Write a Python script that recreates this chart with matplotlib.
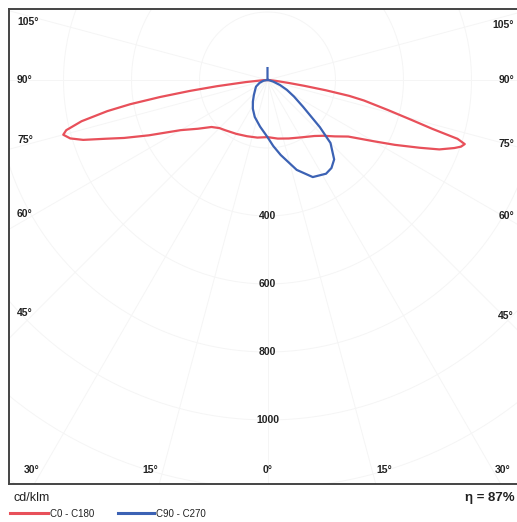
import numpy as np
import matplotlib.pyplot as plt

plt.rcParams["font.family"] = ["Liberation Sans", "DejaVu Sans"]

# Luminous intensity distribution, cd/klm, gamma measured from nadir (deg)
gamma_c0 = [0, 10, 20, 30, 40, 45, 50, 55, 60, 63, 66, 68, 70, 71, 72, 72.8, 73.5,
            74.5, 76, 78, 79, 80, 81, 82, 84, 87, 90]
inten_c0 = [168, 175, 183, 195, 215, 232, 258, 290, 360, 420, 490, 545, 585, 602, 610,
            585, 505, 440, 365, 290, 245, 175, 110, 65, 25, 8, 0]

gamma_c180 = [0, 10, 20, 30, 40, 45, 50, 55, 60, 65, 68, 70, 72, 73.5, 75, 76, 77.5,
              79, 80, 81, 82, 83, 84.5, 87, 90]
inten_c180 = [168, 172, 176, 183, 193, 200, 215, 250, 295, 385, 455, 505, 570, 605,
              622, 610, 560, 480, 410, 320, 230, 150, 65, 15, 0]

gamma_c90 = [0, 5, 10, 18, 25, 32, 36, 40, 45, 48, 53, 58, 63, 68, 74, 80, 90, 180]
inten_c90 = [168, 195, 224, 278, 315, 325, 320, 305, 262, 207, 131, 92, 64, 40, 18, 6, 0, 35]

gamma_c270 = [0, 9, 19, 27, 34, 42, 51, 60, 70, 80, 90]
inten_c270 = [168, 139, 115, 95, 77, 60, 47, 39, 25, 12, 0]

radial_ticks = [400, 600, 800, 1000]
efficiency = "η = 87%"

RED = "#e8505a"
BLUE = "#3c62b4"


def to_xy(gamma, inten, side):
    g = np.radians(np.asarray(gamma, dtype=float))
    r = np.asarray(inten, dtype=float)
    return side * r * np.sin(g), -r * np.cos(g)


W, H = 517, 522
fig = plt.figure(figsize=(W / 100, H / 100), dpi=100)

# plot frame in pixels, origin of the diagram in pixels
left, right, top, bottom = 9, 517, 9, 484
ox, oy, scale = 267.5, 80, 0.34
ax = fig.add_axes([left / W, 1 - bottom / H, (right - left) / W, (bottom - top) / H])
ax.set_xlim((left - ox) / scale, (right - ox) / scale)
ax.set_ylim(-(bottom - oy) / scale, (oy - top) / scale)
ax.set_xticks([])
ax.set_yticks([])
for s in ["left", "top", "bottom"]:
    ax.spines[s].set_color("#444444")
    ax.spines[s].set_linewidth(1.4)
ax.spines["right"].set_visible(False)

# faint polar grid
t = np.linspace(0, 2 * np.pi, 400)
for r in range(200, 1801, 200):
    ax.plot(r * np.cos(t), r * np.sin(t), color="#f5f5f5", lw=0.7, zorder=0)
for a in range(-105, 106, 15):
    ra = np.radians(a)
    ax.plot([0, 2000 * np.sin(ra)], [0, -2000 * np.cos(ra)], color="#f5f5f5", lw=0.7, zorder=0)

# C0 - C180
xl, yl = to_xy(gamma_c180[::-1], inten_c180[::-1], -1)
xr, yr = to_xy(gamma_c0, inten_c0, 1)
ax.plot(np.r_[xl, xr], np.r_[yl, yr], color=RED, lw=1.6, zorder=3, solid_joinstyle="round")

# C90 - C270
xl, yl = to_xy(gamma_c270[::-1], inten_c270[::-1], -1)
xr, yr = to_xy(gamma_c90, inten_c90, 1)
ax.plot(np.r_[xl, xr], np.r_[yl, yr], color=BLUE, lw=1.6, zorder=4, solid_joinstyle="round")

for v in radial_ticks:
    ax.text(0, -v, str(v), ha="center", va="center", fontsize=7.5,
            fontweight="bold", color="#222222", zorder=5)


def px(x, y):
    return x / W, 1 - y / H


lab = dict(fontsize=7.5, fontweight="bold", color="#222222", va="center")
for txt, y in [("105°", 22), ("90°", 80), ("75°", 140), ("60°", 214), ("45°", 313)]:
    fig.text(*px(17, y), txt, ha="left", **lab)
for txt, y in [("105°", 25), ("90°", 80), ("75°", 144), ("60°", 216), ("45°", 316)]:
    fig.text(*px(514, y), txt, ha="right", **lab)
for txt, x in [("30°", 32), ("15°", 150), ("0°", 268), ("15°", 384), ("30°", 503)]:
    fig.text(*px(x, 470), txt, ha="center", **lab)

fig.text(*px(13, 498), "cd/klm", ha="left", va="center", fontsize=9, color="#222222")
fig.text(*px(515, 498), efficiency, ha="right", va="center", fontsize=9.5,
         fontweight="bold", color="#222222")

# legend
fig.lines.append(plt.Line2D([10 / W, 48 / W], [1 - 513 / H] * 2, color=RED, lw=2.2,
                            transform=fig.transFigure))
fig.text(*px(50, 514), "C0 - C180", ha="left", va="center", fontsize=7, color="#222222")
fig.lines.append(plt.Line2D([118 / W, 154 / W], [1 - 513 / H] * 2, color=BLUE, lw=2.2,
                            transform=fig.transFigure))
fig.text(*px(156, 514), "C90 - C270", ha="left", va="center", fontsize=7, color="#222222")

fig.savefig("out.png", dpi=100)
